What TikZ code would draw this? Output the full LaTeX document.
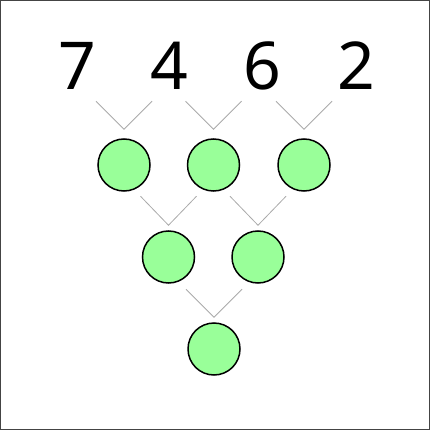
\documentclass[tikz,border=0pt]{standalone}
\usepackage{fontspec}
\setmainfont{Noto Sans}
\usetikzlibrary{calc}
\definecolor{ballgreen}{HTML}{99FF99}
\definecolor{linegray}{HTML}{AAAAAA}
\definecolor{framegray}{HTML}{444444}
\tikzset{
  digit/.style={font=\fontsize{66}{66}\selectfont, inner sep=0pt, anchor=base},
  ball/.style={circle, draw=black, line width=1.5pt, fill=ballgreen,
    minimum size=52pt, inner sep=0pt},
  vline/.style={draw=linegray, line width=0.8pt},
}
\begin{document}
\begin{tikzpicture}[x=1pt, y=-1pt]
    % 1. Khung
    \useasboundingbox (0,0) rectangle (430,430);
    \draw[framegray, line width=1pt] (0.5,0.5) rectangle (429.5,429.5);

    % 2. Các chữ số
    \node[digit] (d1) at (77,90) {7};
    \node[digit] (d2) at (169,90) {4};
    \node[digit] (d3) at (262,90) {6};
    \node[digit] (d4) at (356,90) {2};

    % 3. Các hình tròn
    \node[ball] (b1) at (124,165) {};
    \node[ball] (b2) at (213.5,165) {};
    \node[ball] (b3) at (304,165) {};
    \node[ball] (b4) at (168.5,257) {};
    \node[ball] (b5) at (258,257) {};
    \node[ball] (b6) at (214,349) {};

    % 4. Các nét chữ V
    \foreach \b/\lo/\hi in {b1/9/37, b2/9/37, b3/9/37, b4/5/34, b5/5/34, b6/5/33}
        \draw[vline] ($(\b.north)+(-28,-\hi)$) -- ($(\b.north)+(0,-\lo)$)
            -- ($(\b.north)+(28,-\hi)$);
\end{tikzpicture}
\end{document}
